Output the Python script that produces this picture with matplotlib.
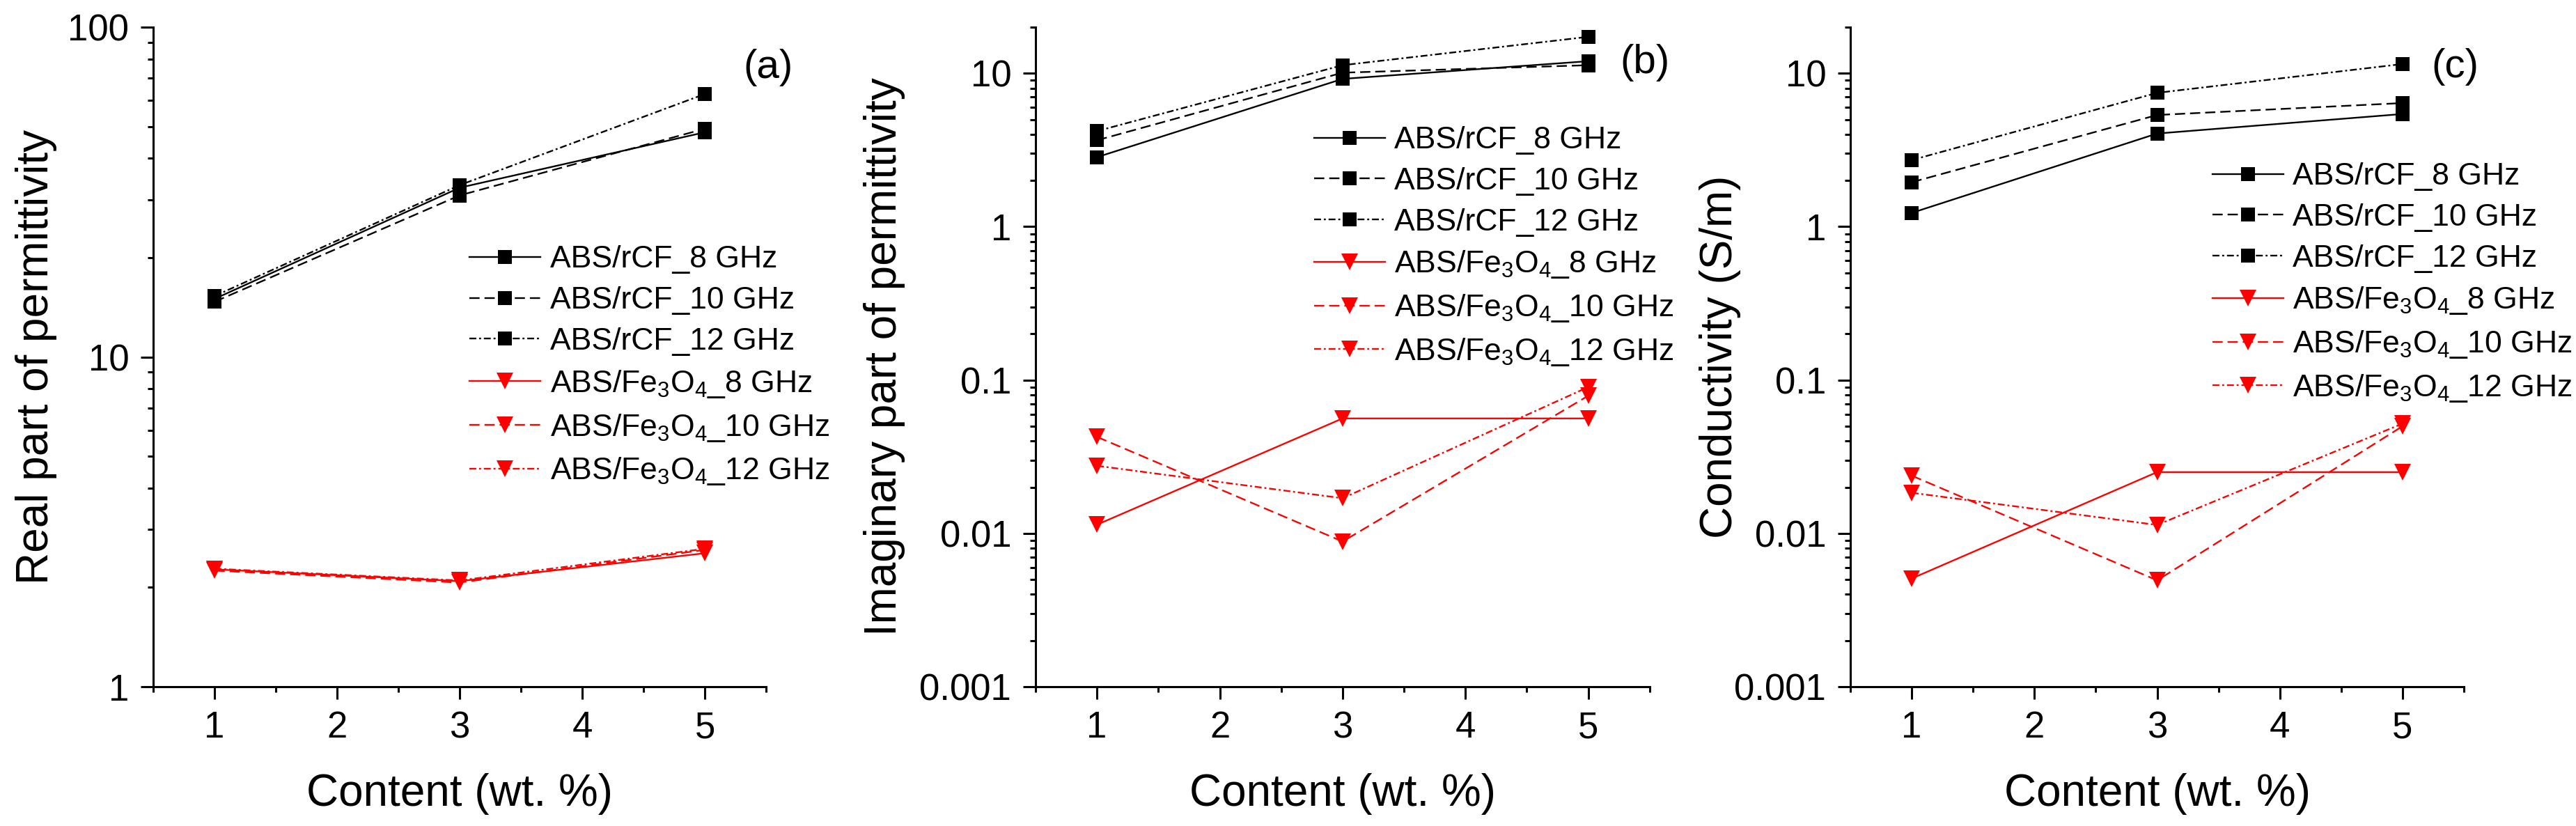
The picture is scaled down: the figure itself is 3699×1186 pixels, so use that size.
"""Permittivity and conductivity of ABS composites versus filler content."""

import matplotlib

matplotlib.use("Agg")
import matplotlib.pyplot as plt
from matplotlib.ticker import (
    FuncFormatter,
    LogLocator,
    MultipleLocator,
    NullFormatter,
)


CONTENT = [1, 3, 5]
FREQUENCIES = ["8", "10", "12"]

REAL_RCF = {
    "8": [15.0, 32.6, 48.0],
    "10": [14.7, 30.9, 49.2],
    "12": [15.3, 33.2, 62.7],
}
REAL_FE = {
    "8": [2.27, 2.09, 2.54],
    "10": [2.25, 2.07, 2.60],
    "12": [2.28, 2.10, 2.62],
}
IMAG_RCF = {
    "8": [2.84, 9.2, 12.0],
    "10": [3.66, 10.1, 11.3],
    "12": [4.2, 11.3, 17.3],
}
IMAG_FE = {
    "8": [0.0114, 0.0562, 0.0562],
    "10": [0.0426, 0.00885, 0.079],
    "12": [0.0276, 0.01695, 0.090],
}
COND_RCF = {
    "8": [1.23, 4.05, 5.43],
    "10": [1.95, 5.35, 6.4],
    "12": [2.72, 7.46, 11.5],
}
COND_FE = {
    "8": [0.00508, 0.0251, 0.0251],
    "10": [0.0238, 0.00494, 0.050],
    "12": [0.0184, 0.01135, 0.052],
}

PANELS = [
    ("Real part of permittivity", "(a)", REAL_RCF, REAL_FE),
    ("Imaginary part of permittivity", "(b)", IMAG_RCF, IMAG_FE),
    ("Conductivity (S/m)", "(c)", COND_RCF, COND_FE),
]

LINE_STYLES = {"8": "-", "10": (0, (6.2, 3.0)), "12": (0, (4.2, 1.7, 1.2, 1.7))}
RED = "#ff0000"

AXES_RECTS = [
    (0.0595, 0.1686, 0.2379, 0.7985),
    (0.4020, 0.1686, 0.2384, 0.7985),
    (0.7183, 0.1686, 0.2382, 0.7985),
]
Y_LIMITS = [(1, 100), (0.001, 20), (0.001, 20)]
YLABEL_X = [-0.157, -0.212, -0.178]
LEGEND_ANCHORS = [(0.516, 0.669), (0.4535, 0.850), (0.590, 0.795)]
TAG_POSITIONS = [(1.003, 0.939), (0.992, 0.946), (0.985, 0.940)]


def style_axis(axis, y_limits):
    """Origin-like axes: left/bottom spines, outward ticks, log y."""
    axis.set_yscale("log")
    axis.set_xlim(0.5, 5.5)
    axis.set_ylim(*y_limits)
    axis.spines[["top", "right"]].set_visible(False)
    for side in ("left", "bottom"):
        axis.spines[side].set_linewidth(2.2)
    axis.xaxis.set_major_locator(MultipleLocator(1))
    axis.xaxis.set_minor_locator(MultipleLocator(0.5))
    axis.yaxis.set_major_locator(LogLocator(base=10, numticks=20))
    axis.yaxis.set_minor_locator(
        LogLocator(base=10, subs=range(2, 10), numticks=20)
    )
    axis.yaxis.set_major_formatter(FuncFormatter(lambda v, _: f"{v:g}"))
    axis.yaxis.set_minor_formatter(NullFormatter())
    axis.tick_params(which="both", direction="out", width=2.2,
                     labelsize=38, top=False, right=False)
    axis.tick_params(which="major", length=13)
    axis.tick_params(which="minor", length=6)
    axis.tick_params(axis="x", which="major", pad=11.5)
    axis.tick_params(axis="y", which="major", pad=12)


def main():
    plt.rcParams.update(
        {
            "font.family": ["Liberation Sans", "DejaVu Sans"],
            "mathtext.fontset": "custom",
            "mathtext.rm": "Liberation Sans",
            "mathtext.it": "Liberation Sans",
            "mathtext.default": "regular",
        }
    )
    figure = plt.figure(figsize=(36.99, 11.86), dpi=100)

    for index, (ylabel, tag, rcf, fe) in enumerate(PANELS):
        axis = figure.add_axes(AXES_RECTS[index])
        handles = []
        for freq in FREQUENCIES:
            (line,) = axis.plot(
                CONTENT, rcf[freq], color="black", linestyle=LINE_STYLES[freq],
                linewidth=1.7, marker="s", markersize=15, markeredgewidth=0,
                label=f"ABS/rCF_{freq} GHz",
            )
            handles.append(line)
        for freq in FREQUENCIES:
            (line,) = axis.plot(
                CONTENT, fe[freq], color=RED, linestyle=LINE_STYLES[freq],
                linewidth=1.7, marker="v", markersize=17, markeredgewidth=0,
                label=r"ABS/Fe$_3$O$_4$_" + f"{freq} GHz",
            )
            handles.append(line)

        style_axis(axis, Y_LIMITS[index])
        axis.set_xlabel("Content (wt. %)", fontsize=46)
        axis.xaxis.set_label_coords(0.5, -0.131)
        axis.set_ylabel(ylabel, fontsize=46)
        axis.yaxis.set_label_coords(YLABEL_X[index], 0.5)

        axis.legend(
            handles=handles, loc="upper left",
            bbox_to_anchor=LEGEND_ANCHORS[index], frameon=False,
            fontsize=32, handlelength=2.3, handletextpad=0.3,
            labelspacing=0.4, borderpad=0, borderaxespad=0,
        )
        axis.text(*TAG_POSITIONS[index], tag, transform=axis.transAxes,
                  fontsize=42, ha="center", va="center")

    figure.savefig("out.png", dpi=100)
    plt.close(figure)


if __name__ == "__main__":
    main()
